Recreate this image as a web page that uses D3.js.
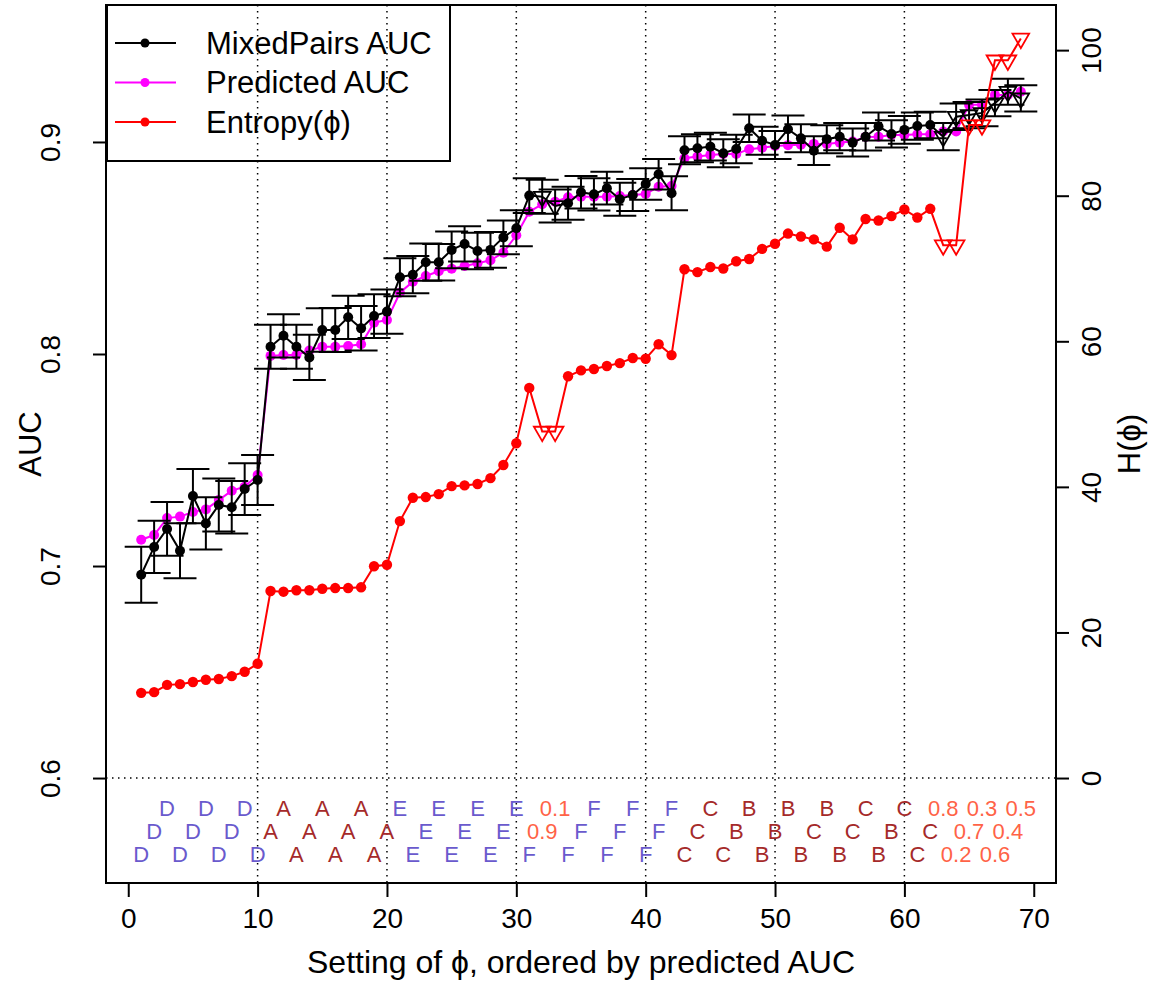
<!DOCTYPE html>
<html>
<head>
<meta charset="utf-8">
<script src="https://cdn.jsdelivr.net/npm/d3@7/dist/d3.min.js"></script>
<style>
  body { margin: 0; background: #fff; }
  text { font-family: "Liberation Sans", Arial, Helvetica, sans-serif; }
</style>
</head>
<body>
<svg id="chart" width="1157" height="982"></svg>
<script>
// settings of phi, ordered by predicted AUC
const settings = d3.range(1, 70);
const phiLabels = ["D","D","D","D","D","D","D","D","D","D",
  "A","A","A","A","A","A","A","A","A","A",
  "E","E","E","E","E","E","E","E","E","E",
  "F","0.9","0.1","F","F","F","F","F","F","F",
  "F","F","C","C","C","C","B","B","B","B",
  "B","B","C","B","B","C","C","B","B","C",
  "C","C","0.8","0.2","0.7","0.3","0.6","0.4","0.5"];
const mixedAuc = [0.6959,0.7090,0.7175,0.7072,0.7330,0.7201,0.7288,0.7277,0.7363,0.7406,
  0.8034,0.8086,0.8034,0.7984,0.8113,0.8113,0.8173,0.8121,0.8179,0.8200,
  0.8362,0.8374,0.8433,0.8433,0.8491,0.8519,0.8486,0.8491,0.8550,0.8593,
  0.8747,0.8742,0.8698,0.8711,0.8763,0.8753,0.8782,0.8730,0.8750,0.8802,
  0.8848,0.8758,0.8961,0.8970,0.8978,0.8947,0.8967,0.9065,0.9006,0.8986,
  0.9060,0.9017,0.8959,0.9013,0.9025,0.8997,0.9025,0.9073,0.9038,0.9057,
  0.9075,0.9080,0.9025,0.9119,0.9127,0.9137,0.9183,0.9237,0.9206];
const mixedErr = [0.0132,0.0123,0.0127,0.0130,0.0128,0.0123,0.0125,0.0124,0.0122,0.0118,
  0.0104,0.0102,0.0104,0.0107,0.0103,0.0104,0.0102,0.0105,0.0103,0.0104,
  0.0090,0.0088,0.0088,0.0086,0.0087,0.0083,0.0086,0.0084,0.0080,0.0085,
  0.0082,0.0080,0.0078,0.0078,0.0077,0.0076,0.0077,0.0078,0.0075,0.0074,
  0.0072,0.0080,0.0066,0.0066,0.0065,0.0066,0.0067,0.0065,0.0066,0.0066,
  0.0065,0.0066,0.0068,0.0066,0.0064,0.0066,0.0065,0.0066,0.0064,0.0065,
  0.0064,0.0063,0.0064,0.0063,0.0062,0.0063,0.0062,0.0061,0.0062];
const predAuc = [0.7124,0.7146,0.7226,0.7233,0.7255,0.7267,0.7311,0.7355,0.7374,0.7429,
  0.7991,0.7995,0.7995,0.8016,0.8034,0.8034,0.8038,0.8046,0.8148,0.8160,
  0.8289,0.8341,0.8368,0.8390,0.8402,0.8415,0.8428,0.8442,0.8478,0.8560,
  0.8671,0.8706,0.8718,0.8739,0.8742,0.8742,0.8742,0.8745,0.8750,0.8755,
  0.8789,0.8792,0.8923,0.8931,0.8939,0.8943,0.8943,0.8966,0.8973,0.8981,
  0.8985,0.8987,0.8991,0.8991,0.8997,0.9002,0.9024,0.9025,0.9033,0.9033,
  0.9036,0.9036,0.9049,0.9049,0.9175,0.9175,0.9222,0.9222,0.9237];
const entropy = [11.7,11.8,12.8,12.9,13.2,13.5,13.6,14.0,14.6,15.7,
  25.7,25.6,25.8,25.8,26.0,26.1,26.1,26.2,29.1,29.3,
  35.3,38.5,38.6,39.0,40.1,40.2,40.4,41.2,43.0,46.0,
  53.6,47.6,47.6,55.2,56.0,56.2,56.6,57.0,57.7,57.6,
  59.6,58.1,69.9,69.5,70.2,70.0,71.0,71.3,72.7,73.4,
  74.8,74.4,74.0,73.0,75.6,74.0,76.8,76.6,77.2,78.1,
  77.0,78.2,73.2,73.2,89.7,89.7,98.6,98.6,101.6];
const xTicks = [0,10,20,30,40,50,60,70];
const gridX = [10,20,30,40,50,60];
const aucTicks = [0.6,0.7,0.8,0.9];
const hTicks = [0,20,40,60,80,100];
const labelRows = [0.5642, 0.5750, 0.5858];   // AUC heights of the three label rows
const legendItems = [
  {name: "MixedPairs AUC", color: "black"},
  {name: "Predicted AUC", color: "magenta"},
  {name: "Entropy(\u03d5)", color: "red"}
];

const pL = 106, pR = 1056, pT = 5, pB = 883;
const svg = d3.select("#chart");

const x = d3.scaleLinear().domain([-1.72, 71.72]).range([pL, pR]);
const y = d3.scaleLinear().domain([0.5505, 0.9646]).range([pB, pT]);
const yH = d3.scaleLinear().domain([-14.42, 106.2]).range([pB, pT]);

const data = settings.map((s, i) => ({
  s: s, lab: phiLabels[i], auc: mixedAuc[i], err: mixedErr[i],
  pred: predAuc[i], h: entropy[i], num: !isNaN(+phiLabels[i])
}));

function labColor(l) {
  if (!isNaN(+l)) return "#FF6347";
  if ("DEF".includes(l)) return "#6A5ACD";
  return "#A52A2A";
}

const tri = d3.symbol(d3.symbolTriangle).size(120);

// dotted guides
svg.append("g").selectAll("line").data(gridX).join("line")
  .attr("x1", d => x(d)).attr("x2", d => x(d))
  .attr("y1", pT).attr("y2", pB)
  .attr("stroke", "black").attr("stroke-width", 1.5).attr("stroke-dasharray", "1.5,4.5");
svg.append("line")
  .attr("x1", pL).attr("x2", pR).attr("y1", y(0.6)).attr("y2", y(0.6))
  .attr("stroke", "black").attr("stroke-width", 1.5).attr("stroke-dasharray", "1.5,4.5");

// predicted AUC
svg.append("path").datum(data)
  .attr("fill", "none").attr("stroke", "magenta").attr("stroke-width", 2)
  .attr("d", d3.line().x(d => x(d.s)).y(d => y(d.pred)));
svg.append("g").selectAll("circle").data(data).join("circle")
  .attr("cx", d => x(d.s)).attr("cy", d => y(d.pred)).attr("r", 5)
  .attr("fill", "magenta");

// mixed pairs AUC with error bars
const eb = svg.append("g").attr("stroke", "black").attr("stroke-width", 2);
eb.selectAll(".v").data(data).join("line").attr("class", "v")
  .attr("x1", d => x(d.s)).attr("x2", d => x(d.s))
  .attr("y1", d => y(d.auc - d.err)).attr("y2", d => y(d.auc + d.err));
eb.selectAll(".t").data(data).join("line").attr("class", "t")
  .attr("x1", d => x(d.s) - 16.5).attr("x2", d => x(d.s) + 16.5)
  .attr("y1", d => y(d.auc + d.err)).attr("y2", d => y(d.auc + d.err));
eb.selectAll(".b").data(data).join("line").attr("class", "b")
  .attr("x1", d => x(d.s) - 16.5).attr("x2", d => x(d.s) + 16.5)
  .attr("y1", d => y(d.auc - d.err)).attr("y2", d => y(d.auc - d.err));

svg.append("path").datum(data)
  .attr("fill", "none").attr("stroke", "black").attr("stroke-width", 2)
  .attr("d", d3.line().x(d => x(d.s)).y(d => y(d.auc)));
svg.append("g").selectAll("circle").data(data.filter(d => !d.num)).join("circle")
  .attr("cx", d => x(d.s)).attr("cy", d => y(d.auc)).attr("r", 5)
  .attr("fill", "black");
svg.append("g").selectAll("path").data(data.filter(d => d.num)).join("path")
  .attr("d", tri)
  .attr("transform", d => `translate(${x(d.s)},${y(d.auc)})rotate(180)`)
  .attr("fill", "none").attr("stroke", "black").attr("stroke-width", 1.8);

// entropy
svg.append("path").datum(data)
  .attr("fill", "none").attr("stroke", "red").attr("stroke-width", 2)
  .attr("d", d3.line().x(d => x(d.s)).y(d => yH(d.h)));
svg.append("g").selectAll("circle").data(data.filter(d => !d.num)).join("circle")
  .attr("cx", d => x(d.s)).attr("cy", d => yH(d.h)).attr("r", 5.2)
  .attr("fill", "red");
svg.append("g").selectAll("path").data(data.filter(d => d.num)).join("path")
  .attr("d", tri)
  .attr("transform", d => `translate(${x(d.s)},${yH(d.h)})rotate(180)`)
  .attr("fill", "none").attr("stroke", "red").attr("stroke-width", 1.8);

// setting labels, staggered in three rows
svg.append("g").selectAll("text").data(data).join("text")
  .attr("x", d => x(d.s))
  .attr("y", d => y(labelRows[(d.s - 1) % 3]))
  .attr("dy", "0.35em")
  .attr("text-anchor", "middle")
  .style("font-size", "22px")
  .attr("fill", d => labColor(d.lab))
  .text(d => d.lab);

// box
svg.append("rect")
  .attr("x", pL).attr("y", pT).attr("width", pR - pL).attr("height", pB - pT)
  .attr("fill", "none").attr("stroke", "black").attr("stroke-width", 2);

// axes
const gx = svg.append("g").attr("transform", `translate(0,${pB})`)
  .call(d3.axisBottom(x).tickValues(xTicks).tickSize(14).tickFormat(d3.format("d")));
gx.select(".domain").remove();
gx.selectAll("line").attr("stroke-width", 2);
gx.selectAll("text").attr("y", 35).attr("dy", "0.35em").style("font-size", "28px").attr("fill", "black");

const gy = svg.append("g").attr("transform", `translate(${pL},0)`)
  .call(d3.axisLeft(y).tickValues(aucTicks).tickSize(13).tickFormat(d3.format(".1f")));
gy.select(".domain").remove();
gy.selectAll("line").attr("stroke-width", 2);
gy.selectAll("text").attr("x", 0).attr("dy", "0.35em")
  .attr("transform", "translate(-56,0)rotate(-90)")
  .attr("text-anchor", "middle").style("font-size", "28px").attr("fill", "black");

const gr = svg.append("g").attr("transform", `translate(${pR},0)`)
  .call(d3.axisRight(yH).tickValues(hTicks).tickSize(13).tickFormat(d3.format("d")));
gr.select(".domain").remove();
gr.selectAll("line").attr("stroke-width", 2);
gr.selectAll("text").attr("x", 0).attr("dy", "0.35em")
  .attr("transform", "translate(35,0)rotate(-90)")
  .attr("text-anchor", "middle").style("font-size", "28px").attr("fill", "black");

// axis titles
svg.append("text")
  .attr("transform", `translate(30,${(pT + pB) / 2})rotate(-90)`)
  .attr("dy", "0.35em").attr("text-anchor", "middle").style("font-size", "31px")
  .text("AUC");
svg.append("text")
  .attr("transform", `translate(1129,${(pT + pB) / 2})rotate(-90)`)
  .attr("dy", "0.35em").attr("text-anchor", "middle").style("font-size", "31px")
  .text("H(\u03d5)");
svg.append("text")
  .attr("x", (pL + pR) / 2).attr("y", 962)
  .attr("dy", "0.35em").attr("text-anchor", "middle").style("font-size", "32px")
  .text("Setting of \u03d5, ordered by predicted AUC");

// legend
const lg = svg.append("g");
lg.append("rect").attr("x", 107).attr("y", 5).attr("width", 343).attr("height", 156)
  .attr("fill", "none").attr("stroke", "black").attr("stroke-width", 2);
const li = lg.selectAll("g").data(legendItems).join("g")
  .attr("transform", (d, i) => `translate(0,${43 + i * 39.5})`);
li.append("line").attr("x1", 115).attr("x2", 176)
  .attr("stroke", d => d.color).attr("stroke-width", 2);
li.append("circle").attr("cx", 145).attr("r", 4.5).attr("fill", d => d.color);
li.append("text").attr("x", 206).attr("dy", "0.35em").style("font-size", "31px")
  .text(d => d.name);
</script>
</body>
</html>
